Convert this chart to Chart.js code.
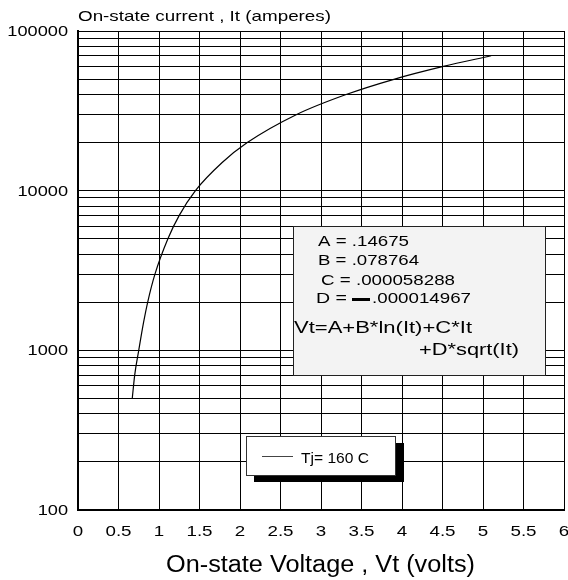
<!DOCTYPE html>
<html>
<head>
<meta charset="utf-8">
<title>On-state characteristic</title>
<script src="https://cdn.jsdelivr.net/npm/chart.js@4.4.0/dist/chart.umd.min.js"></script>
<style>
  html, body { margin: 0; padding: 0; background: #fff; }
  canvas { display: block; }
</style>
</head>
<body>
<canvas id="chart" width="568" height="580"></canvas>
<script>
// On-state voltage vs. current, Tj = 160 C (log current axis)

// --- Data ---
const currents = [500, 700, 1000, 1500, 2000, 3000, 5000, 7000, 10000, 15000, 20000, 30000, 40000, 50000, 60000, 70000];
const voltages = [0.67, 0.70, 0.75, 0.81, 0.86, 0.95, 1.11, 1.25, 1.45, 1.78, 2.09, 2.70, 3.31, 3.91, 4.51, 5.10];

// grid positions (log axis gets a line at every 1..9 x decade)
const yGridValues = [100, 200, 300, 400, 500, 600, 700, 800, 900,
                     1000, 2000, 3000, 4000, 5000, 6000, 7000, 8000, 9000,
                     10000, 20000, 30000, 40000, 50000, 60000, 70000, 80000, 90000, 100000];
const yTickLabels = ['100', '1000', '10000', '100000'];
const xTickValues = [0, 0.5, 1, 1.5, 2, 2.5, 3, 3.5, 4, 4.5, 5, 5.5, 6];
const xTickLabels = ['0', '0.5', '1', '1.5', '2', '2.5', '3', '3.5', '4', '4.5', '5', '5.5', '6'];

// --- Text ---
const yTitle = 'On-state current , It (amperes)';
const xTitle = 'On-state Voltage , Vt (volts)';
const legendLabel = 'Tj= 160 C';
const coefLines = ['A = .14675', 'B = .078764', 'C = .000058288'];
const coefD = ['D =', '.000014967'];
const formulaLines = ['Vt=A+B*ln(It)+C*It', '+D*sqrt(It)'];

const FONT = '"Liberation Sans", Arial, sans-serif';

// Old datasheet fonts are wide: draw text stretched to a target width
function stretchText(ctx, text, x, y, size, width, align) {
  ctx.save();
  ctx.font = size + 'px ' + FONT;
  const w = ctx.measureText(text).width;
  const sx = width ? width / w : 1.28;
  ctx.translate(x, y);
  ctx.scale(sx, 1);
  ctx.textAlign = align || 'left';
  ctx.textBaseline = 'alphabetic';
  ctx.fillStyle = '#000';
  ctx.fillText(text, 0, 0);
  ctx.restore();
}

const overlay = {
  id: 'overlay',
  afterDraw(chart) {
    const ctx = chart.ctx;
    const area = chart.chartArea;
    const xs = chart.scales.x;
    const ys = chart.scales.y;

    // axis titles
    stretchText(ctx, yTitle, 78, 21, 15, 253);
    stretchText(ctx, xTitle, 166, 572, 23, 309);

    // y tick labels (decades only)
    yTickLabels.forEach((lab) => {
      const py = ys.getPixelForValue(Number(lab));
      ctx.save();
      ctx.font = '14px ' + FONT;
      const w = ctx.measureText(lab).width * 1.3;
      ctx.restore();
      stretchText(ctx, lab, area.left - 10 - w, py + 5, 14, w);
    });

    // x tick labels
    xTickValues.forEach((v, i) => {
      const px = xs.getPixelForValue(v);
      ctx.save();
      ctx.font = '15px ' + FONT;
      const w = ctx.measureText(xTickLabels[i]).width * 1.25;
      ctx.restore();
      stretchText(ctx, xTickLabels[i], px - w / 2, 536, 15, w);
    });

    // coefficient box
    ctx.save();
    ctx.fillStyle = '#f3f3f3';
    ctx.fillRect(293, 226, 253, 150);
    ctx.strokeStyle = '#222';
    ctx.lineWidth = 1;
    ctx.strokeRect(293.5, 226.5, 252, 149);
    ctx.restore();

    stretchText(ctx, coefLines[0], 318, 246, 15, 91);
    stretchText(ctx, coefLines[1], 318, 265, 15, 101);
    stretchText(ctx, coefLines[2], 321, 285, 15, 134);
    stretchText(ctx, coefD[0], 316, 303, 15, 31);
    ctx.fillStyle = '#000';
    ctx.fillRect(352, 298, 18, 3);
    stretchText(ctx, coefD[1], 372, 303, 15, 99);
    stretchText(ctx, formulaLines[0], 294, 333, 16, 178);
    stretchText(ctx, formulaLines[1], 419, 355, 16, 100);

    // legend box with drop shadow
    ctx.save();
    ctx.fillStyle = '#000';
    ctx.fillRect(254, 443, 150, 39);
    ctx.fillStyle = '#fff';
    ctx.fillRect(246, 436, 150, 40);
    ctx.strokeStyle = '#333';
    ctx.lineWidth = 1;
    ctx.strokeRect(246.5, 436.5, 149, 39);
    ctx.strokeStyle = '#444';
    ctx.beginPath();
    ctx.moveTo(262, 456.5);
    ctx.lineTo(293, 456.5);
    ctx.stroke();
    ctx.restore();
    stretchText(ctx, legendLabel, 301, 463, 15, 68);
  }
};

new Chart(document.getElementById('chart'), {
  type: 'line',
  data: {
    datasets: [{
      label: legendLabel,
      data: currents.map((c, i) => ({ x: voltages[i], y: c })),
      borderColor: '#000',
      borderWidth: 1.2,
      pointRadius: 0,
      fill: false,
      cubicInterpolationMode: 'monotone',
    }],
  },
  options: {
    responsive: false,
    animation: false,
    devicePixelRatio: 1,
    layout: { padding: { top: 31, right: 4, left: 0, bottom: 0 } },
    plugins: {
      legend: { display: false },
      tooltip: { enabled: false },
    },
    scales: {
      x: {
        type: 'linear',
        min: 0,
        max: 6,
        afterBuildTicks: (scale) => { scale.ticks = xTickValues.map(v => ({ value: v })); },
        afterFit: (scale) => { scale.height = 70; },
        ticks: { display: false },
        grid: { color: '#000', lineWidth: 1, drawTicks: false },
        border: { color: '#000', width: 2 },
      },
      y: {
        type: 'logarithmic',
        min: 100,
        max: 100000,
        afterBuildTicks: (scale) => { scale.ticks = yGridValues.map(v => ({ value: v })); },
        afterFit: (scale) => { scale.width = 78; },
        ticks: { display: false },
        grid: { color: '#000', lineWidth: 1, drawTicks: false },
        border: { color: '#000', width: 2 },
      },
    },
  },
  plugins: [overlay],
});
</script>
</body>
</html>
